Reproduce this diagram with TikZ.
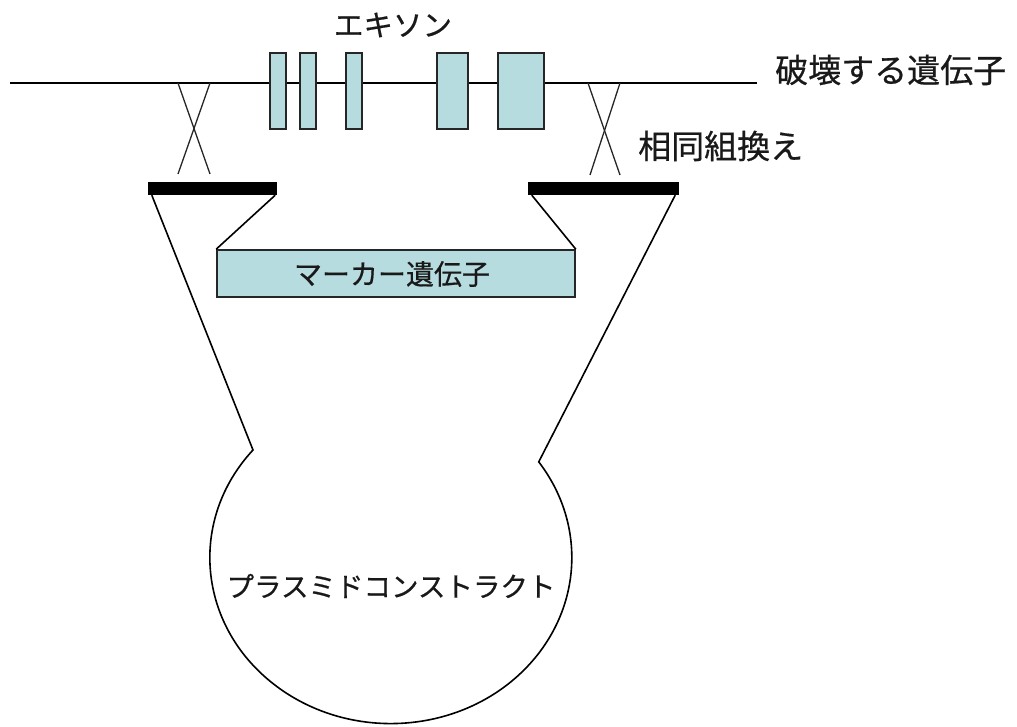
\documentclass[tikz,border=0pt]{standalone}
\usepackage{fontspec}
\setmainfont{Noto Sans CJK JP}[FakeBold=0.6]
\newfontfamily\jpbold{Noto Sans CJK JP}[FakeBold=0.6]
\definecolor{exonfill}{RGB}{182,220,224}
\begin{document}
\begin{tikzpicture}[x=1pt,y=-1pt,
  thinline/.style={line width=1.6pt,black},
  crossline/.style={line width=1.3pt,black!85},
  exonbox/.style={draw=black!85,line width=1.6pt,fill=exonfill,inner sep=0pt,minimum height=76pt},
  barbox/.style={fill=black,inner sep=0pt,minimum height=13pt},
  lbl/.style={inner sep=0pt,text=black!90}]
\useasboundingbox (0,0) rectangle (1017,727);
% gene line
\coordinate (gL) at (10,83);
\coordinate (gR) at (757,83);
\draw[thinline] (gL) -- (gR);
% exons
\node[exonbox,minimum width=16pt] (e1) at (278,91) {};
\node[exonbox,minimum width=16pt] (e2) at (308,91) {};
\node[exonbox,minimum width=16pt] (e3) at (354,91) {};
\node[exonbox,minimum width=31pt] (e4) at (452.5,91) {};
\node[exonbox,minimum width=46pt] (e5) at (521,91) {};
\node[lbl,font=\jpbold\fontsize{29.5}{29.5}\selectfont] (exlbl) at (393,25) {エキソン};
\node[lbl,anchor=west,font=\jpbold\fontsize{33}{33}\selectfont] (genelbl) at (775,70) {破壊する遺伝子};
\node[lbl,anchor=west,font=\jpbold\fontsize{33}{33}\selectfont] (hrlbl) at (638,146) {相同組換え};
% bars
\node[barbox,minimum width=129pt] (lb) at (212.5,188.5) {};
\node[barbox,minimum width=151pt] (rb) at (603.5,188.5) {};
% crossovers
\coordinate (xl1) at (178,83); \coordinate (xl2) at (210,83);
\coordinate (xl3) at (178,174); \coordinate (xl4) at (210,174);
\draw[crossline] (xl1) -- (xl4);
\draw[crossline] (xl2) -- (xl3);
\coordinate (xr1) at (588,83); \coordinate (xr2) at (620,83);
\coordinate (xr3) at (590,175); \coordinate (xr4) at (620,175);
\draw[crossline] (xr1) -- (xr4);
\draw[crossline] (xr2) -- (xr3);
% marker
\node[draw=black!85,line width=1.6pt,fill=exonfill,minimum width=358pt,minimum height=47pt,inner sep=0pt] (mk) at (396,273.5) {};
\node[lbl,font=\jpbold\fontsize{28}{28}\selectfont] (mklbl) at (392,274) {マーカー遺伝子};
\draw[thinline] ([xshift=-2pt]lb.south east) -- (mk.north west);
\draw[thinline] ([xshift=4pt]rb.south west) -- (mk.north east);
% plasmid
\coordinate (nl) at (253,450);
\coordinate (nr) at (537,462);
\draw[thinline,line join=miter] ([xshift=4pt]lb.south west) -- (nl)
  arc[start angle=220.4,end angle=-35.2,x radius=181,y radius=166] -- ([xshift=-4pt]rb.south east);
\node[lbl,font=\jpbold\fontsize{27.5}{27.5}\selectfont] (pllbl) at (391,586) {プラスミドコンストラクト};
\end{tikzpicture}
\end{document}
